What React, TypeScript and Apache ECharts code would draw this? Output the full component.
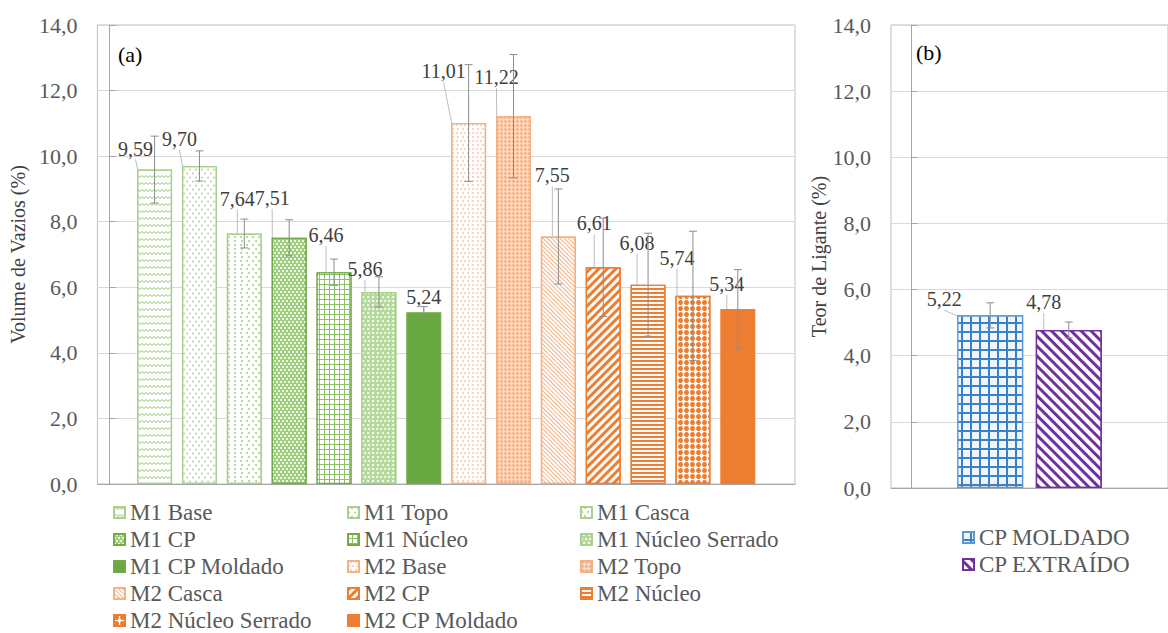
import React, { useEffect, useRef } from "react";
import * as echarts from "echarts";

// ---- data ----
const voidSeriesNames = [
  "M1 Base",
  "M1 Topo",
  "M1 Casca",
  "M1 CP",
  "M1 Núcleo",
  "M1 Núcleo Serrado",
  "M1 CP Moldado",
  "M2 Base",
  "M2 Topo",
  "M2 Casca",
  "M2 CP",
  "M2 Núcleo",
  "M2 Núcleo Serrado",
  "M2 CP Moldado",
];
const voidVolume = [9.59, 9.7, 7.64, 7.51, 6.46, 5.86, 5.24, 11.01, 11.22, 7.55, 6.61, 6.08, 5.74, 5.34];
const voidVolumeError = [1.02, 0.46, 0.44, 0.55, 0.4, 0.46, 0.17, 1.78, 1.88, 1.45, 1.5, 1.57, 1.97, 1.2];

const binderSeriesNames = ["CP MOLDADO", "CP EXTRAÍDO"];
const binderContent = [5.22, 4.78];
const binderContentError = [0.38, 0.24];

const yTickValues = [0, 2, 4, 6, 8, 10, 12, 14];

// legend columns for panel (a)
const legendColumns = [
  ["M1 Base", "M1 CP", "M1 CP Moldado", "M2 Casca", "M2 Núcleo Serrado"],
  ["M1 Topo", "M1 Núcleo", "M2 Base", "M2 CP", "M2 CP Moldado"],
  ["M1 Casca", "M1 Núcleo Serrado", "M2 Topo", "M2 Núcleo"],
];

// ---- styling ----
const SERIF = "Liberation Serif";
const GREEN = "#70AD47";
const ORANGE = "#ED7D31";
const PALE_GREEN = "#a9d18e";
const PALE_ORANGE = "#f4b183";

// label offsets (px) from the default "top" position
const voidLabelShift = [
  [-19, -10], [-20, -16], [-7, -24], [-17, -29], [-8, -26], [-14, -12], [0, -4],
  [-25, -41], [-17, -28], [-6, -50], [-9, -33], [-11, -31], [-16, -27], [-11, -14],
];
const binderLabelShift = [
  [-46, -5], [-25, -17],
];

const zigzag = "path://M0 3 L2 0 L4 3 L6 0 L8 3 L8 5 L6 2 L4 5 L2 2 L0 5 Z";

const voidStyles: any[] = [
  { color: "#fff", border: PALE_GREEN, decal: { symbol: zigzag, symbolSize: 1, symbolKeepAspect: false, color: PALE_GREEN, backgroundColor: "#fff", dashArrayX: [8, 0], dashArrayY: [3, 4] } },
  { color: "#fff", border: PALE_GREEN, decal: { symbol: "circle", symbolSize: 0.9, color: PALE_GREEN, backgroundColor: "#fff", dashArrayX: [[2, 4], [0, 3, 2, 1]], dashArrayY: [3, 1] } },
  { color: "#fff", border: PALE_GREEN, decal: { symbol: "circle", symbolSize: 1, color: PALE_GREEN, backgroundColor: "#fff", dashArrayX: [[1.5, 4], [0, 2.75, 1.5, 1.25]], dashArrayY: [1.5, 2] } },
  { color: "#9bcb7a", border: GREEN, decal: { symbol: "circle", symbolSize: 1, color: "#fff", backgroundColor: "#9bcb7a", dashArrayX: [[2, 2], [0, 2, 2, 0]], dashArrayY: [1.5, 0.5] } },
  { color: "#8cc168", border: GREEN, decal: { symbol: "rect", symbolSize: 1, color: "#fff", backgroundColor: "#8cc168", dashArrayX: [3.5, 1], dashArrayY: [3.5, 1] } },
  { color: "#b5d99c", border: PALE_GREEN, decal: { symbol: "circle", symbolSize: 1, color: "#fff", backgroundColor: "#b5d99c", dashArrayX: [[1.5, 2], [0, 1.75, 1.5, 0.25]], dashArrayY: [1.5, 1.5] } },
  { color: "#6aa842", border: GREEN, decal: null },
  { color: "#fff", border: PALE_ORANGE, decal: { symbol: "circle", symbolSize: 1, color: "#f8cbad", backgroundColor: "#fff", dashArrayX: [[1.5, 2], [0, 1.75, 1.5, 0.25]], dashArrayY: [1.5, 1.5] } },
  { color: "#fcdcc6", border: PALE_ORANGE, decal: { symbol: "circle", symbolSize: 1, color: PALE_ORANGE, backgroundColor: "#fcdcc6", dashArrayX: [3, 1], dashArrayY: [3, 1] } },
  { color: "#fff", border: PALE_ORANGE, decal: { symbol: "rect", symbolSize: 1, color: PALE_ORANGE, backgroundColor: "#fff", dashArrayX: [1, 0], dashArrayY: [1, 2], rotation: Math.PI / 4 } },
  { color: "#fff", border: ORANGE, decal: { symbol: "rect", symbolSize: 1, color: ORANGE, backgroundColor: "#fff", dashArrayX: [1, 0], dashArrayY: [2.5, 3], rotation: -Math.PI / 4 } },
  { color: "#fff", border: ORANGE, decal: { symbol: "rect", symbolSize: 1, color: ORANGE, backgroundColor: "#fff", dashArrayX: [1, 0], dashArrayY: [1.6, 2] } },
  { color: "#fff", border: ORANGE, decal: { symbol: "circle", symbolSize: 1, color: ORANGE, backgroundColor: "#fff", dashArrayX: [4.5, 1], dashArrayY: [4.5, 1] } },
  { color: ORANGE, border: ORANGE, decal: null },
];

const binderStyles: any[] = [
  { color: "#3b82c4", border: "#5B9BD5", decal: { symbol: "rect", symbolSize: 1, color: "#eef5fc", backgroundColor: "#3b82c4", dashArrayX: [7, 1.2], dashArrayY: [7, 1.2] } },
  { color: "#fff", border: "#7030A0", decal: { symbol: "rect", symbolSize: 1, color: "#7030A0", backgroundColor: "#fff", dashArrayX: [1, 0], dashArrayY: [2.5, 3.5], rotation: Math.PI / 4 } },
];

const fmt2 = (v: number) => v.toFixed(2).replace(".", ",");
const fmt1 = (v: number) => v.toFixed(1).replace(".", ",");

function errorBarRenderer(params: any, api: any) {
  const x = api.value(0);
  const lo = api.value(1);
  const hi = api.value(2);
  const a = api.coord([x, hi]);
  const b = api.coord([x, lo]);
  const cap = 4;
  const style = { stroke: "#8c8c8c", lineWidth: 1 };
  return {
    type: "group",
    children: [
      { type: "line", shape: { x1: a[0], y1: a[1], x2: b[0], y2: b[1] }, style },
      { type: "line", shape: { x1: a[0] - cap, y1: a[1], x2: a[0] + cap, y2: a[1] }, style },
      { type: "line", shape: { x1: b[0] - cap, y1: b[1], x2: b[0] + cap, y2: b[1] }, style },
    ],
  };
}

function yAxisFor(gridIndex: number, name: string, nameGap: number) {
  return {
    type: "value",
    gridIndex,
    min: yTickValues[0],
    max: yTickValues[yTickValues.length - 1],
    interval: yTickValues[1] - yTickValues[0],
    name,
    nameLocation: "middle",
    nameGap,
    nameTextStyle: { fontFamily: SERIF, fontSize: 20, color: "#404040" },
    axisLine: { show: true, lineStyle: { color: "#a6a6a6" } },
    axisTick: { show: true, inside: true, length: 6, lineStyle: { color: "#a6a6a6" } },
    axisLabel: { fontFamily: SERIF, fontSize: 22, color: "#595959", margin: 20, formatter: (v: number) => fmt1(v) },
    splitLine: { show: true, lineStyle: { color: "#d9d9d9" } },
  };
}

function xAxisFor(gridIndex: number, min: number, max: number) {
  return {
    type: "value",
    gridIndex,
    min,
    max,
    axisLine: { show: true, onZero: false, lineStyle: { color: "#a6a6a6" } },
    axisTick: { show: false },
    axisLabel: { show: false },
    splitLine: { show: false },
  };
}

function barSeries(name: string, pos: number, value: number, st: any, shift: number[], axis: number, width: number, gap: string) {
  return {
    type: "bar",
    name,
    xAxisIndex: axis,
    yAxisIndex: axis,
    barWidth: width,
    barGap: gap,
    data: [[pos, value]],
    itemStyle: { color: st.color, borderColor: st.border, borderWidth: 1.3, decal: st.decal || undefined },
    label: {
      show: true,
      position: "top",
      distance: 0,
      fontFamily: SERIF,
      fontSize: 20,
      lineHeight: 22,
      color: "#404040",
      formatter: (p: any) => fmt2(p.value[1]),
    },
    labelLayout: { dx: shift[0], dy: shift[1], hideOverlap: false },
    labelLine: { show: true, lineStyle: { color: "#bfbfbf", width: 1 } },
    emphasis: { disabled: true },
  };
}

const legendText = { fontFamily: SERIF, fontSize: 23, lineHeight: 23, color: "#595959" };

export default function App() {
  const ref = useRef<HTMLDivElement>(null);

  useEffect(() => {
    document.body.style.margin = "0";
    if (!ref.current) return;
    const chart = echarts.init(ref.current, undefined, { renderer: "svg" });

    const seriesA = voidSeriesNames.map((n, i) =>
      barSeries(n, i + 1, voidVolume[i], voidStyles[i], voidLabelShift[i], 0, 35, "-100%")
    );
    const seriesB = binderSeriesNames.map((n, i) =>
      barSeries(n, i + 1, binderContent[i], binderStyles[i], binderLabelShift[i], 1, 66, "-100%")
    );

    const errA = {
      type: "custom",
      name: "erro-a",
      xAxisIndex: 0,
      yAxisIndex: 0,
      z: 10,
      silent: true,
      renderItem: errorBarRenderer,
      encode: { x: 0, y: [1, 2] },
      data: voidVolume.map((v, i) => [i + 1, v - voidVolumeError[i], v + voidVolumeError[i]]),
    };
    const errB = {
      type: "custom",
      name: "erro-b",
      xAxisIndex: 1,
      yAxisIndex: 1,
      z: 10,
      silent: true,
      renderItem: errorBarRenderer,
      encode: { x: 0, y: [1, 2] },
      data: binderContent.map((v, i) => [i + 1, v - binderContentError[i], v + binderContentError[i]]),
    };

    const legendBase = {
      orient: "vertical",
      padding: 0,
      itemGap: 4,
      itemWidth: 11,
      itemHeight: 11,
      height: 160,
      icon: "rect",
      selectedMode: false,
      textStyle: legendText,
    };

    chart.setOption({
      animation: false,
      backgroundColor: "#ffffff",
      grid: [
        { left: 97, top: 25, width: 698, height: 459, show: true, borderColor: "#bfbfbf", borderWidth: 1, containLabel: false },
        { left: 891, top: 25, width: 289, height: 463, show: true, borderColor: "#bfbfbf", borderWidth: 1, containLabel: false },
      ],
      xAxis: [xAxisFor(0, -0.275, 15.275), xAxisFor(1, -0.262, 3.262)],
      yAxis: [yAxisFor(0, "Volume de Vazios (%)", 64), yAxisFor(1, "Teor de Ligante (%)", 58)],
      legend: [
        { ...legendBase, data: legendColumns[0], left: 113, top: 501 },
        { ...legendBase, data: legendColumns[1], left: 347, top: 501 },
        { ...legendBase, data: legendColumns[2], left: 580, top: 501 },
        { ...legendBase, data: binderSeriesNames, left: 962, top: 526 },
      ],
      graphic: [
        { type: "text", left: 118, top: 43, style: { text: "(a)", font: `22px ${SERIF}`, fill: "#000" } },
        { type: "text", left: 916, top: 41, style: { text: "(b)", font: `22px ${SERIF}`, fill: "#000" } },
      ],
      series: [...seriesA, ...seriesB, errA, errB],
    });

    return () => chart.dispose();
  }, []);

  return <div ref={ref} style={{ width: 1168, height: 633 }} />;
}
